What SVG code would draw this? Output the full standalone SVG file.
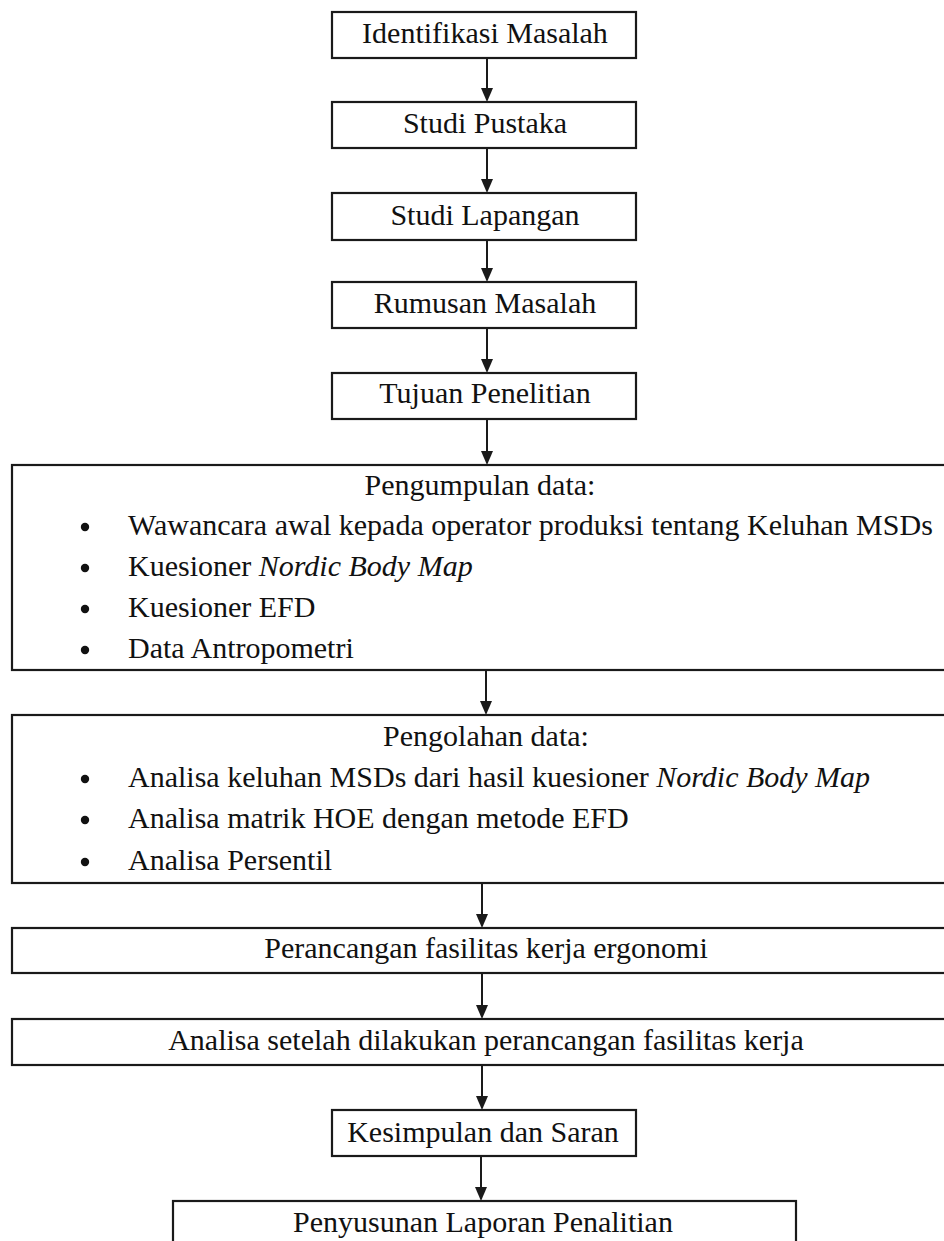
<svg xmlns="http://www.w3.org/2000/svg" width="944" height="1241" viewBox="0 0 944 1241">
<defs>
<style>
.box{fill:#fff;stroke:#1a1a1a;stroke-width:2.2}
.t{font-family:"Liberation Serif","Times New Roman",serif;font-size:30px;fill:#111}
.c{text-anchor:middle}
.i{font-style:italic}
.b{fill:#111}
.ln{stroke:#1a1a1a;stroke-width:2;fill:none}
.ah{fill:#1a1a1a}
</style>
</defs>
<rect width="944" height="1241" fill="#fff"/>
<g id="connectors">
<line class="ln" x1="487" y1="58" x2="487" y2="88"/><path class="ah" d="M481,88 L493,88 L487,102 Z"/>
<line class="ln" x1="487" y1="148" x2="487" y2="179"/><path class="ah" d="M481,179 L493,179 L487,193 Z"/>
<line class="ln" x1="487" y1="240" x2="487" y2="268"/><path class="ah" d="M481,268 L493,268 L487,282 Z"/>
<line class="ln" x1="487" y1="328" x2="487" y2="359"/><path class="ah" d="M481,359 L493,359 L487,373 Z"/>
<line class="ln" x1="487" y1="419" x2="487" y2="451"/><path class="ah" d="M481,451 L493,451 L487,465 Z"/>
<line class="ln" x1="486" y1="670" x2="486" y2="701"/><path class="ah" d="M480,701 L492,701 L486,715 Z"/>
<line class="ln" x1="482" y1="883" x2="482" y2="914"/><path class="ah" d="M476,914 L488,914 L482,928 Z"/>
<line class="ln" x1="482" y1="973" x2="482" y2="1005"/><path class="ah" d="M476,1005 L488,1005 L482,1019 Z"/>
<line class="ln" x1="482" y1="1065" x2="482" y2="1096"/><path class="ah" d="M476,1096 L488,1096 L482,1110 Z"/>
<line class="ln" x1="481" y1="1156" x2="481" y2="1187"/><path class="ah" d="M475,1187 L487,1187 L481,1201 Z"/>
</g>
<g id="n1"><rect class="box" x="332" y="12" width="304" height="46"/><text class="t c" x="485" y="43">Identifikasi Masalah</text></g>
<g id="n2"><rect class="box" x="332" y="102" width="304" height="46"/><text class="t c" x="485" y="133">Studi Pustaka</text></g>
<g id="n3"><rect class="box" x="332" y="193" width="304" height="47"/><text class="t c" x="485" y="225">Studi Lapangan</text></g>
<g id="n4"><rect class="box" x="332" y="282" width="304" height="46"/><text class="t c" x="485" y="313">Rumusan Masalah</text></g>
<g id="n5"><rect class="box" x="332" y="373" width="304" height="46"/><text class="t c" x="485" y="403">Tujuan Penelitian</text></g>
<g id="n6"><rect class="box" x="12" y="465" width="960" height="205"/>
<text class="t c" x="480" y="495">Pengumpulan data:</text>
<circle class="b" cx="85" cy="527" r="4.2"/><text class="t" x="128" y="535">Wawancara awal kepada operator produksi tentang Keluhan MSDs</text>
<circle class="b" cx="85" cy="568" r="4.2"/><text class="t" x="128" y="576">Kuesioner <tspan class="i">Nordic Body Map</tspan></text>
<circle class="b" cx="85" cy="609" r="4.2"/><text class="t" x="128" y="617">Kuesioner EFD</text>
<circle class="b" cx="85" cy="650" r="4.2"/><text class="t" x="128" y="658">Data Antropometri</text>
</g>
<g id="n7"><rect class="box" x="12" y="715" width="960" height="168"/>
<text class="t c" x="486" y="746">Pengolahan data:</text>
<circle class="b" cx="85" cy="779" r="4.2"/><text class="t" x="128" y="787">Analisa keluhan MSDs dari hasil kuesioner <tspan class="i">Nordic Body Map</tspan></text>
<circle class="b" cx="85" cy="820" r="4.2"/><text class="t" x="128" y="828">Analisa matrik HOE dengan metode EFD</text>
<circle class="b" cx="85" cy="862" r="4.2"/><text class="t" x="128" y="870">Analisa Persentil</text>
</g>
<g id="n8"><rect class="box" x="12" y="928" width="960" height="45"/><text class="t c" x="486" y="958">Perancangan fasilitas kerja ergonomi</text></g>
<g id="n9"><rect class="box" x="12" y="1019" width="960" height="46"/><text class="t c" x="486" y="1050">Analisa setelah dilakukan perancangan fasilitas kerja</text></g>
<g id="n10"><rect class="box" x="332" y="1110" width="304" height="46"/><text class="t c" x="483" y="1142">Kesimpulan dan Saran</text></g>
<g id="n11"><rect class="box" x="173" y="1201" width="623" height="60"/><text class="t c" x="483" y="1232">Penyusunan Laporan Penalitian</text></g>
</svg>
